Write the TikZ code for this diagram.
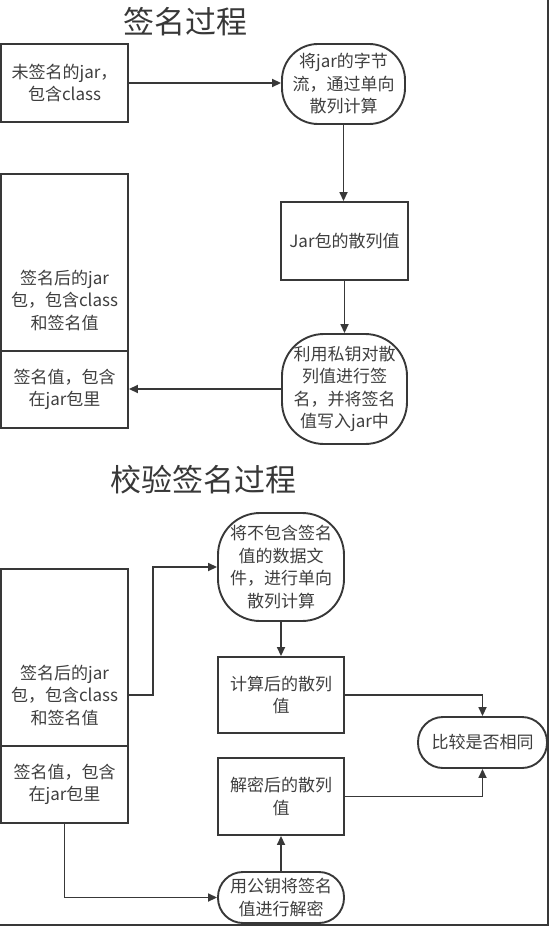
\documentclass[tikz,border=0pt]{standalone}
\usepackage{fontspec}
\setmainfont{Noto Sans CJK SC}
\usetikzlibrary{arrows.meta}
\definecolor{ln}{HTML}{383838}
\definecolor{tx}{HTML}{3E3E3E}
\begin{document}
\begin{tikzpicture}[x=1pt,y=-1pt,
  base/.style={draw=ln, line width=1.9pt, text=tx, align=center, inner sep=0pt,
    font=\fontsize{17}{22.5}\selectfont},
  sq/.style={base},
  rnd/.style={base, rounded corners=#1},
  txt/.style={text=tx, align=center, inner sep=0pt, font=\fontsize{17}{22.5}\selectfont},
  ttl/.style={text=ln, inner sep=0pt, font=\fontsize{31}{36}\selectfont},
  arr/.style={draw=ln, line width=1.7pt, -{Triangle[length=9pt,width=8pt]}}
]
\useasboundingbox (0,0) rectangle (551,928);
% frame
\draw[ln, line width=1.8pt] (0,925) -- (548,925) -- (548,0);

% ---------- signing ----------
\node[ttl] (T1) at (185,22) {签名过程};
\node[sq, minimum width=127pt, minimum height=78pt] (A) at (64.5,83) {未签名的jar，\\包含class};
\node[rnd=36pt, minimum width=123pt, minimum height=80pt] (B) at (343.5,84) {将jar的字节\\流，通过单向\\散列计算};
\node[sq, minimum width=127pt, minimum height=78pt] (C) at (344.5,241) {Jar包的散列值};
\node[rnd=42pt, minimum width=125pt, minimum height=110pt] (D) at (344.5,389) {利用私钥对散\\列值进行签\\名，并将签名\\值写入jar中};
\node[sq, minimum width=127pt, minimum height=177pt] (E1) at (64.5,262.5) {};
\node[txt] (E1t) at (64.5,300) {签名后的jar\\包，包含class\\和签名值};
\node[sq, minimum width=127pt, minimum height=77pt] (E2) at (64.5,389.5) {签名值，包含\\在jar包里};

\draw[arr] (A.east) -- (A.east -| B.west);
\draw[arr] (B.south) -- (B.south |- C.north);
\draw[arr] (C.south) -- (C.south |- D.north);
\draw[arr] (D.west) -- (D.west -| E2.east);

% ---------- verifying ----------
\node[ttl] (T2) at (203.5,480) {校验签名过程};
\node[rnd=42pt, minimum width=126pt, minimum height=108pt] (F) at (281,567) {将不包含签名\\值的数据文\\件，进行单向\\散列计算};
\node[sq, minimum width=127pt, minimum height=177pt] (G1) at (64.5,657.5) {};
\node[txt] (G1t) at (64.5,695) {签名后的jar\\包，包含class\\和签名值};
\node[sq, minimum width=127pt, minimum height=77pt] (G2) at (64.5,784.5) {签名值，包含\\在jar包里};
\node[sq, minimum width=126pt, minimum height=76pt] (H) at (281,695) {计算后的散列\\值};
\node[sq, minimum width=126pt, minimum height=77pt] (I) at (281,796.5) {解密后的散列\\值};
\node[rnd=25pt, minimum width=126pt, minimum height=51pt] (K) at (281,897.5) {用公钥将签名\\值进行解密};
\node[rnd=25pt, minimum width=129pt, minimum height=51pt] (J) at (482.5,742.5) {比较是否相同};

\draw[arr] (G1.east |- G1t) -- ++(24,0) |- (F.west);
\draw[arr] (F.south) -- (H.north);
\draw[arr] (H.east) -| (J.north);
\draw[arr] (I.east) -| (J.south);
\draw[arr] (K.north) -- (I.south);
\draw[arr] (G2.south) |- (K.west);
\end{tikzpicture}
\end{document}
